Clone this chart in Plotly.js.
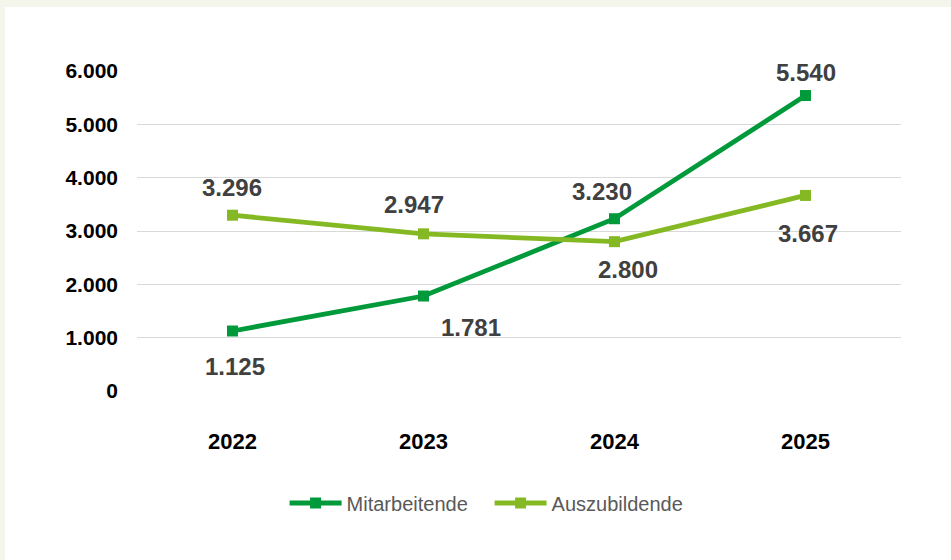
<!DOCTYPE html>
<html>
<head>
<meta charset="utf-8">
<script src="https://cdn.plot.ly/plotly-3.0.1.min.js"></script>
<style>
  html, body { margin: 0; padding: 0; background: #f4f6eb; width: 951px; height: 560px; overflow: hidden; }
  #chart { position: absolute; left: 5px; top: 7px; width: 946px; height: 553px; background: #ffffff; }
</style>
</head>
<body>
<div id="chart"></div>
<script>
var years = ['2022', '2023', '2024', '2025'];
var mitarbeitende = [1125, 1781, 3230, 5540];
var auszubildende = [3296, 2947, 2800, 3667];
var yTicks = [0, 1000, 2000, 3000, 4000, 5000, 6000];

// label offsets in px (x, y) for each point
var mitOffsets = [[2, -35], [47, -31], [-13, 27], [0, 23]];
var ausOffsets = [[-1, 28], [-10, 29], [13, -28], [2, -38]];

var colMit = '#009a3a';
var colAus = '#85b923';
var fontFam = '"Liberation Sans", Arial, sans-serif';

function labels(xs, ys, offs) {
  var out = [];
  for (var i = 0; i < xs.length; i++) {
    var s = String(ys[i]);
    s = s.length > 3 ? s.slice(0, s.length - 3) + '.' + s.slice(-3) : s;
    out.push({
      x: i, y: ys[i], xref: 'x', yref: 'y',
      text: s,
      showarrow: false, xshift: offs[i][0], yshift: offs[i][1],
      font: {family: fontFam, size: 24, color: '#404040', weight: 'bold'}
    });
  }
  return out;
}

var traceMit = {
  x: years, y: mitarbeitende, name: 'Mitarbeitende', type: 'scatter', mode: 'lines+markers',
  line: {color: colMit, width: 4.8}, marker: {color: colMit, symbol: 'square', size: 11}
};
var traceAus = {
  x: years, y: auszubildende, name: 'Auszubildende', type: 'scatter', mode: 'lines+markers',
  line: {color: colAus, width: 4.8}, marker: {color: colAus, symbol: 'square', size: 11}
};

var layout = {
  width: 946, height: 553,
  margin: {l: 132, r: 50, t: 64, b: 169},
  paper_bgcolor: '#ffffff', plot_bgcolor: '#ffffff',
  separators: ',.',
  showlegend: true,
  legend: {
    orientation: 'h', x: 0.4615, xanchor: 'center',
    y: -0.35, yanchor: 'middle', itemwidth: 52, entrywidth: 138,
    font: {family: fontFam, size: 20, color: '#595959'}
  },
  xaxis: {
    type: 'category', range: [-0.5, 3.5], showgrid: false, zeroline: false, showline: false,
    ticks: '', ticklabelstandoff: 35,
    tickfont: {family: fontFam, size: 22, color: '#000000', weight: 'bold'}
  },
  yaxis: {
    range: [0, 6000], tickvals: yTicks, tickformat: ',d',
    showgrid: true, gridcolor: '#d9d9d9', gridwidth: 1.3, zeroline: false, showline: false,
    ticks: '', ticklabelstandoff: 18,
    tickfont: {family: fontFam, size: 21, color: '#000000', weight: 'bold'}
  },
  annotations: labels(years, mitarbeitende, mitOffsets).concat(labels(years, auszubildende, ausOffsets))
};

Plotly.newPlot(document.getElementById('chart'), [traceMit, traceAus], layout, {displayModeBar: false});
</script>
</body>
</html>
